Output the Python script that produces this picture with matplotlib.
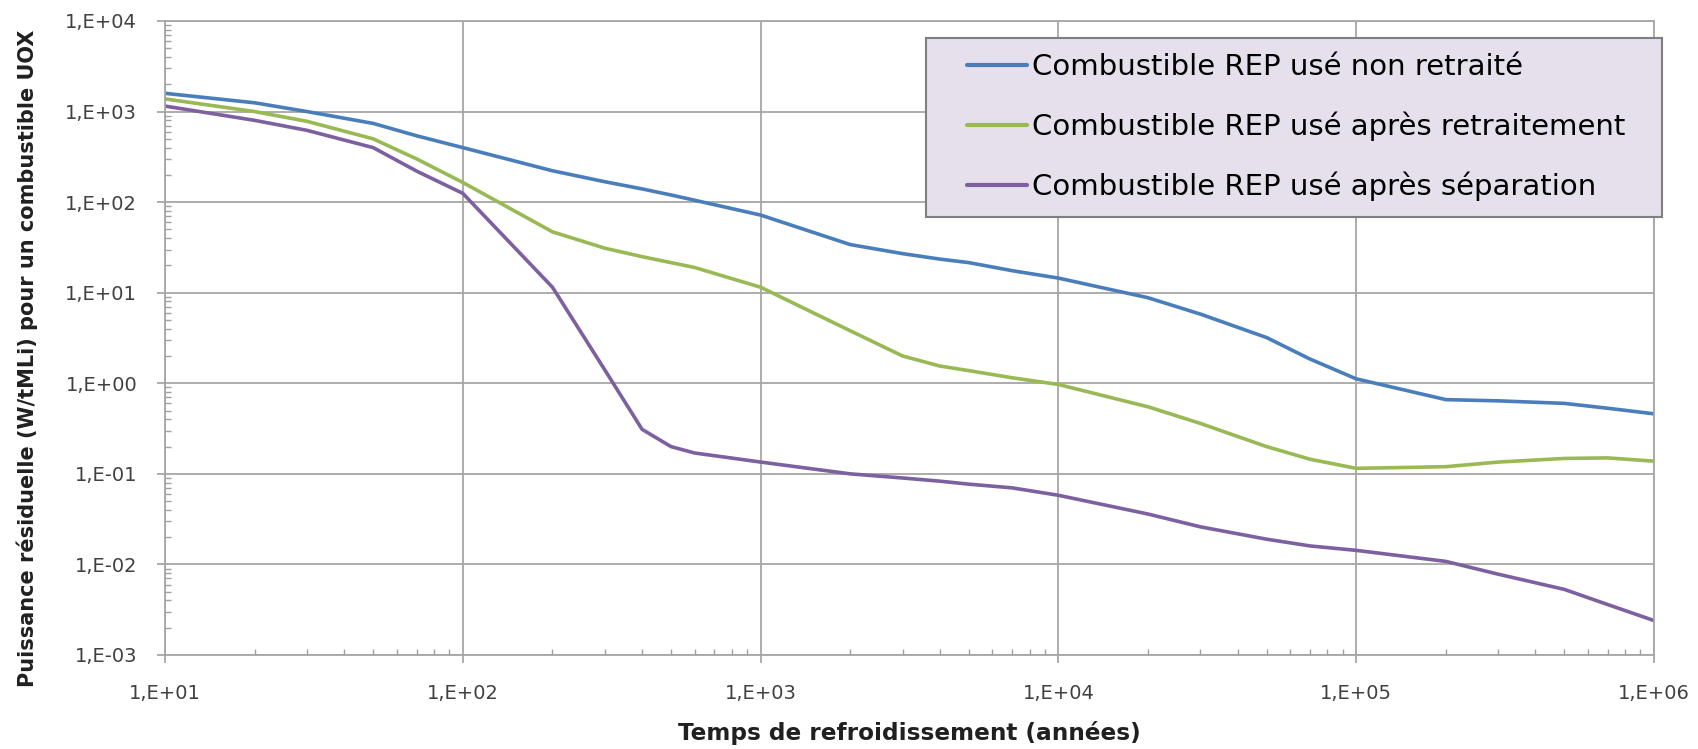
import numpy as np
import matplotlib.pyplot as plt
from matplotlib.patches import Rectangle
from matplotlib.ticker import LogLocator, FuncFormatter, NullFormatter

plt.rcParams["font.family"] = ["DejaVu Sans"]

# Cooling time (years)
years = [10, 20, 30, 50, 70, 100, 200, 300, 400, 500, 600, 1000, 2000, 3000,
         4000, 5000, 7000, 1e4, 2e4, 3e4, 5e4, 7e4, 1e5, 2e5, 3e5, 5e5, 7e5, 1e6]

# Residual power (W/tMLi)
non_retraite = [1590, 1250, 1000, 740, 540, 400, 222, 168, 140, 120, 105, 72,
                34, 27, 23.5, 21.5, 17.5, 14.5, 8.8, 5.8, 3.2, 1.85, 1.12,
                0.66, 0.64, 0.6, 0.53, 0.46]
apres_retraitement = [1380, 1000, 780, 500, 300, 165, 47, 31, 25, 21.5, 19,
                      11.5, 3.8, 2.0, 1.55, 1.38, 1.15, 0.97, 0.55, 0.36, 0.2,
                      0.145, 0.115, 0.12, 0.135, 0.148, 0.15, 0.138]
apres_separation = [1150, 800, 620, 400, 220, 125, 11.5, 1.4, 0.31, 0.2, 0.17,
                    0.135, 0.1, 0.09, 0.083, 0.077, 0.07, 0.058, 0.036, 0.026,
                    0.019, 0.016, 0.0143, 0.0108, 0.0078, 0.0053, 0.0036, 0.0024]

labels = ["Combustible REP usé non retraité",
          "Combustible REP usé après retraitement",
          "Combustible REP usé après séparation"]
colors = ["#4A7EBB", "#98B954", "#7D60A0"]

W, H = 1698, 749
fig = plt.figure(figsize=(W / 100, H / 100), dpi=100)
ax = fig.add_axes([165 / W, 1 - 655 / H, (1654 - 165) / W, (655 - 21) / H])

for vals, lab, col in zip([non_retraite, apres_retraitement, apres_separation], labels, colors):
    ax.plot(years, vals, color=col, linewidth=2.6, label=lab, solid_capstyle="round")

ax.set_xscale("log")
ax.set_yscale("log")
ax.set_xlim(10, 1e6)
ax.set_ylim(1e-3, 1e4)

fmt = FuncFormatter(lambda v, p: "1,E{:+03d}".format(int(round(np.log10(v)))))
ax.xaxis.set_major_locator(LogLocator(base=10, numticks=20))
ax.yaxis.set_major_locator(LogLocator(base=10, numticks=20))
ax.xaxis.set_major_formatter(fmt)
ax.yaxis.set_major_formatter(fmt)
ax.xaxis.set_minor_locator(LogLocator(base=10, subs=np.arange(2, 10), numticks=20))
ax.yaxis.set_minor_locator(LogLocator(base=10, subs=np.arange(2, 10), numticks=20))
ax.xaxis.set_minor_formatter(NullFormatter())
ax.yaxis.set_minor_formatter(NullFormatter())

ax.tick_params(which="major", direction="out", length=6, width=1.2, color="#A0A0A0",
               labelsize=14, labelcolor="#404040")
ax.tick_params(axis="x", which="major", pad=15)
ax.tick_params(axis="y", which="major", pad=14)
ax.tick_params(which="minor", direction="in", length=4, width=1, color="#A0A0A0")

ax.grid(True, which="major", color="#A6A6A6", linewidth=1.3)
ax.set_axisbelow(True)
for s in ax.spines.values():
    s.set_color("#A6A6A6")
    s.set_linewidth(1.3)

ax.set_xlabel("Temps de refroidissement (années)", fontsize=16.7, fontweight="bold",
              color="#202020", labelpad=13)
ax.set_ylabel("Puissance résiduelle (W/tMLi) pour un combustible UOX", fontsize=15,
              fontweight="bold", color="#202020")
ax.yaxis.set_label_coords(-0.085, 0.468)

# legend box
fig.add_artist(Rectangle((926 / W, 1 - 217 / H), (1662 - 926) / W, (217 - 38) / H,
                         transform=fig.transFigure, facecolor="#E6E0EC",
                         edgecolor="#7F7F7F", linewidth=1.5, zorder=4))
leg = fig.legend(loc="upper left", bbox_to_anchor=(967 / W, 1 - 53 / H),
                 fontsize=21, frameon=False, handlelength=2.05,
                 handletextpad=0.17, labelspacing=1.05, borderpad=0, borderaxespad=0)
leg.set_zorder(5)
for line in leg.get_lines():
    line.set_linewidth(3)

fig.savefig("out.png", dpi=100, facecolor="white")
